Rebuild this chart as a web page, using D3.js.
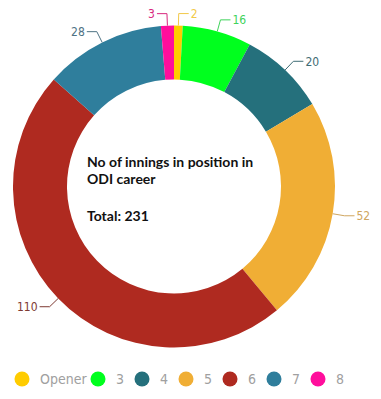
<!DOCTYPE html>
<html><head><meta charset="utf-8">
<script src="https://cdn.jsdelivr.net/npm/d3@7"></script>
<style>
html,body{margin:0;padding:0;background:#fff;}
svg{display:block;}
</style></head>
<body>
<svg id="chart" width="381" height="399"></svg>
<script>
const categories = ["Opener", "3", "4", "5", "6", "7", "8"];
const values = [2, 16, 20, 52, 110, 28, 3];
const colors = ["#FFCC00", "#00FF1E", "#25707C", "#F0AE35", "#AF2A20", "#2F7E9C", "#FF0E9C"];
const labelColors = ["#F2C94A", "#3ED25A", "#3E6B74", "#CFA660", "#7E3A33", "#4E7283", "#D8287E"];
const titleLines = ["No of innings in position in", "ODI career", "", "Total: 231"];

const svg = d3.select("#chart");
const cx = 174, cy = 186.5, rOuter = 161, rInner = 107;

const pie = d3.pie().sort(null).value(d => d.v);
const data = pie(categories.map((c, i) => ({c, v: values[i], i})));
const arc = d3.arc().innerRadius(rInner).outerRadius(rOuter);
const g = svg.append("g").attr("transform", `translate(${cx},${cy})`);

g.selectAll("path.slice").data(data).join("path")
  .attr("class", "slice")
  .attr("d", arc)
  .attr("fill", d => colors[d.data.i]);

// labels with connectors
const pt = (a, r) => [r * Math.sin(a), -r * Math.cos(a)];
data.forEach(d => {
  const a = (d.startAngle + d.endAngle) / 2;
  const p0 = pt(a, rOuter);
  const p1 = pt(a, rOuter + 12);
  const right = Math.sin(a) >= 0;
  const p2 = [p1[0] + (right ? 10 : -10), p1[1]];
  g.append("polyline")
    .attr("points", [p0, p1, p2].map(p => p.join(",")).join(" "))
    .attr("fill", "none")
    .attr("stroke", labelColors[d.data.i])
    .attr("stroke-width", 1);
  g.append("text")
    .attr("x", p2[0] + (right ? 2 : -2))
    .attr("y", p2[1])
    .attr("dy", "0.35em")
    .attr("text-anchor", right ? "start" : "end")
    .attr("font-family", "'DejaVu Sans Condensed', 'DejaVu Sans', sans-serif")
    .attr("font-stretch", "condensed")
    .attr("font-size", 12)
    .attr("fill", labelColors[d.data.i])
    .text(d.data.v);
});

// center title
const tY = [167, 184, 0, 221];
titleLines.forEach((t, i) => {
  if (!t) return;
  svg.append("text")
    .attr("x", 87).attr("y", tY[i])
    .attr("font-family", "Lato, 'Open Sans', sans-serif")
    .attr("font-weight", "bold")
    .attr("font-size", 14)
    .attr("fill", "#111")
    .text(t);
});

// legend
const legendX = [22, 98, 142, 186, 230, 274, 318];
const lg = svg.append("g");
categories.forEach((c, i) => {
  lg.append("circle").attr("cx", legendX[i]).attr("cy", 379).attr("r", 7.5).attr("fill", colors[i]);
  lg.append("text")
    .attr("x", legendX[i] + 18).attr("y", 379).attr("dy", "0.35em")
    .attr("font-family", "'DejaVu Sans Condensed', 'DejaVu Sans', sans-serif")
    .attr("font-stretch", "condensed")
    .attr("font-weight", 300)
    .attr("font-size", 14)
    .attr("fill", "#A0A0A0")
    .text(c);
});
</script>
</body></html>
